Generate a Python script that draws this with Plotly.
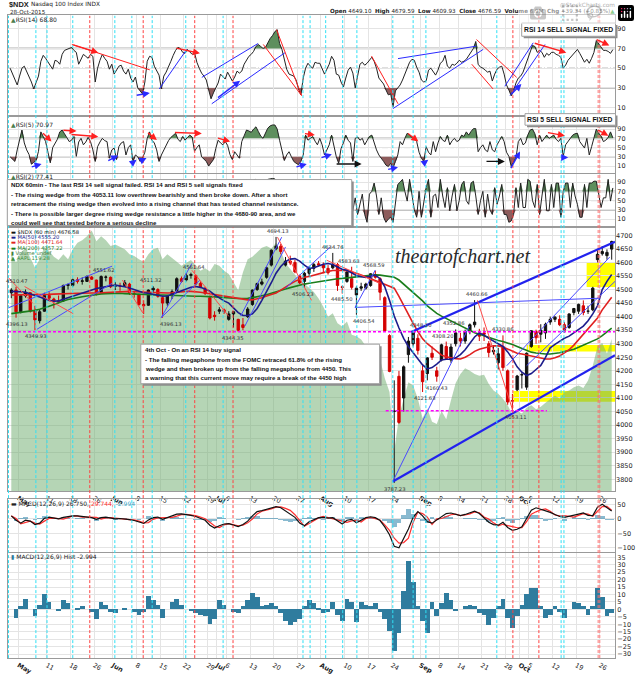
import plotly.graph_objects as go

# ---------------- DATA ----------------
# trading-day index: 0 = Fri 1 May 2015 ... 125 = Wed 28 Oct 2015
days = list(range(-2, 126))

tick_days = [0, 6, 11, 16, 20, 25, 30, 35, 40, 42, 44, 49, 54, 59, 64, 69, 74, 79,
             85, 89, 93, 98, 103, 106, 108, 113, 118, 123]
tick_labels = ["<b>May</b>", "11", "18", "26", "<b>Jun</b>", "8", "15", "22", "29", "<b>Jul</b>",
               "6", "13", "20", "27", "<b>Aug</b>", "10", "17", "24", "<b>Sep</b>", "8", "14",
               "21", "28", "<b>Oct</b>", "5", "12", "19", "26"]

open_ = [4488, 4498, 4418, 4477, 4488, 4422, 4385, 4420, 4478, 4465,
         4458, 4458, 4515, 4515, 4536, 4530, 4530, 4546, 4535, 4490,
         4545, 4545, 4512, 4512, 4514, 4520, 4485, 4480, 4445, 4442,
         4498, 4500, 4470, 4450, 4478, 4495, 4540, 4535, 4552, 4552,
         4522, 4505, 4470, 4405, 4420, 4425, 4390, 4410, 4390, 4370,
         4400, 4445, 4500, 4520, 4545, 4590, 4650, 4660, 4590, 4605,
         4600, 4550, 4530, 4560, 4578, 4595, 4590, 4578, 4580, 4592,
         4510, 4530, 4540, 4480, 4505, 4505, 4515, 4555, 4540, 4470,
         4330, 4050, 4180, 4100, 4260, 4300, 4320, 4200, 4190, 4265,
         4200, 4240, 4290, 4240, 4300, 4320, 4310, 4345, 4370, 4340,
         4340, 4300, 4270, 4230, 4290, 4200, 4090, 4130, 4185, 4140,
         4290, 4345, 4335, 4340, 4380, 4390, 4390, 4370, 4360, 4415,
         4420, 4440, 4420, 4425, 4610, 4632, 4625, 4649]
high = [4505, 4510, 4480, 4500, 4490, 4440, 4425, 4488, 4490, 4470,
        4478, 4518, 4522, 4540, 4545, 4545, 4552, 4550, 4536, 4552,
        4552, 4548, 4528, 4525, 4535, 4525, 4495, 4485, 4460, 4500,
        4512, 4505, 4472, 4480, 4500, 4545, 4548, 4560, 4562, 4555,
        4530, 4510, 4478, 4420, 4435, 4430, 4420, 4420, 4392, 4395,
        4435, 4500, 4525, 4540, 4585, 4648, 4694, 4668, 4620, 4625,
        4610, 4555, 4565, 4585, 4598, 4605, 4600, 4590, 4635, 4598,
        4515, 4575, 4584, 4512, 4525, 4525, 4560, 4569, 4545, 4475,
        4335, 4165, 4200, 4220, 4325, 4348, 4335, 4220, 4250, 4290,
        4215, 4300, 4308, 4300, 4353, 4340, 4352, 4375, 4461, 4355,
        4360, 4310, 4295, 4285, 4331, 4205, 4115, 4185, 4195, 4268,
        4350, 4352, 4372, 4378, 4400, 4402, 4405, 4380, 4412, 4432,
        4448, 4460, 4440, 4510, 4650, 4660, 4648, 4680]
low = [4468, 4396, 4412, 4470, 4415, 4350, 4375, 4418, 4460, 4430,
       4448, 4455, 4500, 4510, 4522, 4518, 4528, 4535, 4478, 4488,
       4530, 4505, 4498, 4495, 4510, 4480, 4470, 4440, 4410, 4440,
       4490, 4470, 4396, 4440, 4465, 4490, 4525, 4530, 4540, 4515,
       4505, 4480, 4390, 4385, 4410, 4410, 4385, 4360, 4344, 4350,
       4395, 4440, 4495, 4515, 4540, 4585, 4645, 4630, 4585, 4590,
       4560, 4520, 4506, 4550, 4565, 4585, 4560, 4555, 4575, 4495,
       4485, 4525, 4500, 4407, 4495, 4500, 4510, 4540, 4460, 4345,
       4195, 3787, 4005, 4050, 4230, 4290, 4260, 4122, 4165, 4240,
       4160, 4235, 4240, 4230, 4290, 4290, 4300, 4335, 4360, 4310,
       4310, 4250, 4260, 4205, 4200, 4075, 4053, 4125, 4135, 4130,
       4285, 4300, 4305, 4318, 4370, 4380, 4365, 4340, 4355, 4405,
       4410, 4405, 4410, 4420, 4600, 4625, 4610, 4610]
close = [4498, 4418, 4477, 4490, 4420, 4388, 4418, 4478, 4468, 4456,
         4455, 4515, 4518, 4536, 4530, 4532, 4548, 4538, 4488, 4548,
         4546, 4510, 4515, 4512, 4525, 4488, 4484, 4445, 4440, 4498,
         4505, 4475, 4450, 4478, 4492, 4540, 4530, 4552, 4555, 4520,
         4508, 4485, 4395, 4400, 4425, 4418, 4410, 4418, 4350, 4360,
         4428, 4498, 4522, 4528, 4580, 4645, 4660, 4640, 4605, 4598,
         4565, 4525, 4560, 4580, 4592, 4590, 4580, 4562, 4592, 4515,
         4508, 4565, 4508, 4505, 4510, 4520, 4558, 4545, 4490, 4348,
         4198, 4052, 4010, 4215, 4310, 4342, 4275, 4160, 4248, 4250,
         4180, 4296, 4245, 4288, 4340, 4310, 4345, 4370, 4380, 4328,
         4335, 4268, 4276, 4263, 4212, 4085, 4089, 4181, 4186, 4265,
         4348, 4322, 4350, 4372, 4390, 4398, 4370, 4350, 4410, 4430,
         4445, 4415, 4420, 4505, 4630, 4640, 4637, 4677]

ma50 = [4493, 4493, 4492, 4490, 4485, 4478, 4472, 4466, 4460, 4457,
        4458, 4464, 4470, 4475, 4480, 4485, 4492, 4499, 4504, 4507,
        4511, 4514, 4516, 4514, 4510, 4506, 4500, 4494, 4488, 4486,
        4482, 4478, 4475, 4476, 4482, 4490, 4495, 4502, 4508, 4511,
        4508, 4502, 4494, 4480, 4468, 4458, 4450, 4432, 4415, 4404,
        4404, 4410, 4430, 4460, 4490, 4525, 4560, 4585, 4603, 4612,
        4614, 4605, 4590, 4578, 4580, 4587, 4593, 4596, 4592, 4583,
        4575, 4571, 4562, 4552, 4547, 4545, 4550, 4553, 4540, 4510,
        4460, 4402, 4358, 4320, 4290, 4268, 4243, 4222, 4207, 4212,
        4225, 4240, 4243, 4243, 4248, 4260, 4278, 4300, 4325, 4340,
        4332, 4320, 4310, 4298, 4290, 4270, 4245, 4215, 4195, 4183,
        4190, 4205, 4220, 4250, 4285, 4298, 4310, 4320, 4328, 4340,
        4352, 4365, 4385, 4410, 4440, 4500, 4530, 4555.2]
ma100 = [4480, 4480, 4480, 4480, 4480, 4480, 4480, 4481, 4482, 4483,
         4484, 4485, 4486, 4486, 4486, 4486, 4486, 4486, 4487, 4488,
         4489, 4490, 4491, 4492, 4493, 4493, 4492, 4491, 4490, 4489,
         4488, 4487, 4486, 4487, 4488, 4490, 4492, 4493, 4493, 4492,
         4490, 4487, 4484, 4481, 4478, 4476, 4474, 4470, 4466, 4463,
         4462, 4462, 4465, 4470, 4476, 4481, 4487, 4498, 4510, 4520,
         4530, 4538, 4545, 4548, 4553, 4558, 4563, 4567, 4570, 4571,
         4571, 4569, 4565, 4560, 4554, 4548, 4540, 4533, 4526, 4520,
         4512, 4505, 4475, 4440, 4405, 4375, 4345, 4318, 4300, 4285,
         4270, 4258, 4252, 4248, 4245, 4244, 4250, 4260, 4272, 4280,
         4285, 4289, 4292, 4292, 4288, 4280, 4270, 4265, 4262, 4258,
         4255, 4250, 4246, 4244, 4244, 4248, 4255, 4265, 4278, 4295,
         4315, 4335, 4355, 4375, 4395, 4425, 4450, 4471.64]
ma200 = [4411, 4413, 4415, 4417, 4420, 4423, 4427, 4432, 4438, 4445,
         4452, 4458, 4463, 4467, 4470, 4473, 4476, 4479, 4482, 4484,
         4485, 4486, 4486, 4486, 4485, 4484, 4483, 4482, 4481, 4480,
         4480, 4480, 4480, 4479, 4478, 4477, 4476, 4476, 4476, 4475,
         4475, 4475, 4474, 4473, 4472, 4470, 4469, 4468, 4467, 4467,
         4468, 4470, 4473, 4477, 4481, 4486, 4492, 4497, 4502, 4507,
         4512, 4516, 4520, 4523, 4526, 4529, 4532, 4535, 4538, 4540,
         4541, 4543, 4545, 4547, 4549, 4551, 4553, 4554, 4553, 4551,
         4548, 4545, 4535, 4520, 4505, 4490, 4475, 4458, 4440, 4425,
         4412, 4402, 4393, 4384, 4375, 4366, 4357, 4348, 4341, 4335,
         4329, 4323, 4318, 4312, 4308, 4303, 4297, 4290, 4283, 4276,
         4269, 4266, 4263, 4262, 4262, 4264, 4267, 4271, 4275, 4280,
         4287, 4295, 4303, 4310, 4318, 4330, 4342, 4357.22]

aapl = [129.6, 128.6, 129.8, 130.4, 129.2, 128.0, 129.0, 130.5, 130.0, 129.3,
        128.9, 129.6, 129.0, 130.2, 131.0, 131.3, 131.8, 132.5, 131.2, 131.8,
        131.3, 130.6, 130.8, 130.5, 130.2, 129.6, 129.4, 129.0, 128.7, 129.6,
        130.2, 130.4, 129.0, 129.6, 129.2, 128.7, 128.2, 128.6, 128.9, 128.3,
        127.6, 127.9, 127.5, 128.4, 128.2, 127.6, 127.2, 126.2, 125.2, 127.4,
        129.0, 129.3, 129.8, 130.4, 130.6, 130.3, 131.0, 130.0, 128.5, 127.8,
        127.0, 126.4, 126.0, 125.5, 125.0, 124.2, 123.2, 122.0, 122.4, 121.2,
        120.8, 121.4, 119.8, 119.6, 119.2, 118.4, 117.6, 118.3, 116.8, 114.5,
        112.8, 105.6, 109.8, 112.0, 114.0, 113.6, 112.0, 109.6, 110.8, 109.2,
        108.9, 110.5, 109.5, 111.8, 113.9, 115.0, 115.7, 115.4, 115.0, 114.8,
        114.9, 113.8, 113.0, 112.6, 112.0, 111.2, 110.0, 110.5, 110.2, 110.9,
        111.2, 110.7, 111.0, 111.5, 112.0, 112.4, 112.0, 112.8, 113.0, 113.4,
        113.6, 113.3, 114.2, 116.0, 118.4, 118.8, 117.5, 119.28]

# half-day RSI readings (two per trading day)
rsi14 = [50, 44, 39, 33, 42, 50, 52, 47, 41, 36, 29, 35, 42, 57, 63, 60, 56, 52, 49, 58,
         57, 54, 64, 68, 69, 70, 71, 68, 66, 54, 60, 64, 62, 60, 64, 62, 36, 50, 58, 64,
         60, 57, 49, 54, 44, 48, 52, 53, 47, 44, 49, 40, 36, 41, 30, 27, 24, 36, 57, 62,
         61, 52, 47, 43, 29, 42, 46, 51, 57, 63, 68, 71, 70, 66, 65, 69, 66, 64, 66, 56,
         50, 45, 42, 38, 28, 19, 25, 31, 35, 44, 41, 39, 46, 42, 37, 41, 47, 45, 47, 54,
         58, 62, 64, 67, 72, 74, 72, 70, 71, 76, 80, 83, 87, 89, 75, 69, 60, 49, 44, 43,
         42, 38, 29, 23, 40, 50, 55, 52, 50, 56, 55, 55, 50, 44, 49, 54, 62, 58, 44, 43,
         36, 31, 40, 48, 51, 45, 30, 44, 54, 56, 53, 55, 58, 61, 57, 50, 40, 37, 34, 28,
         23, 24, 11, 27, 30, 33, 38, 44, 49, 56, 59, 58, 51, 46, 38, 36, 37, 48, 50, 47,
         43, 48, 55, 57, 63, 52, 50, 54, 53, 55, 58, 56, 57, 59, 63, 66, 70, 77, 54, 51,
         50, 48, 46, 47, 37, 44, 49, 51, 52, 44, 33, 28, 22, 27, 35, 40, 42, 46, 53, 59,
         68, 73, 72, 66, 68, 66, 61, 65, 63, 66, 66, 64, 63, 61, 50, 53, 58, 61, 63, 66,
         69, 65, 60, 56, 59, 55, 60, 66, 78, 75, 71, 68, 68, 67, 65, 68.8]
rsi5 = [30, 25, 20, 45, 66, 88, 60, 45, 35, 14, 18, 22, 42, 84, 74, 63, 40, 17, 50, 60,
        68, 84, 88, 80, 70, 63, 66, 74, 31, 62, 70, 56, 62, 72, 63, 45, 20, 52, 62, 70,
        65, 63, 27, 45, 49, 24, 52, 60, 63, 34, 50, 56, 20, 34, 30, 20, 27, 40, 70, 84,
        66, 60, 45, 20, 34, 45, 56, 65, 72, 77, 81, 68, 63, 74, 66, 72, 77, 73, 42, 50,
        56, 30, 25, 20, 10, 16, 24, 48, 66, 60, 56, 63, 55, 35, 24, 41, 33, 27, 63, 74,
        88, 86, 83, 90, 95, 85, 75, 70, 81, 92, 97, 99, 99, 90, 66, 40, 22, 34, 41, 30,
        20, 16, 13, 20, 34, 77, 66, 70, 74, 64, 56, 70, 56, 34, 45, 56, 77, 50, 30, 16,
        48, 60, 77, 66, 60, 20, 70, 73, 66, 70, 56, 65, 74, 77, 60, 45, 34, 28, 20, 12,
        9, 16, 6, 20, 34, 63, 56, 70, 81, 77, 72, 70, 63, 40, 27, 20, 52, 40, 34, 63,
        41, 60, 74, 66, 63, 77, 56, 65, 70, 63, 66, 77, 74, 84, 77, 85, 91, 91, 41, 50,
        56, 45, 41, 63, 45, 41, 56, 65, 74, 63, 40, 31, 9, 20, 27, 63, 70, 56, 60, 77,
        88, 90, 80, 56, 77, 63, 70, 77, 70, 74, 77, 68, 63, 70, 31, 56, 63, 70, 77, 80,
        81, 63, 56, 49, 70, 34, 52, 70, 90, 81, 75, 63, 66, 72, 84, 70.97]
rsi2 = [20, 10, 8, 60, 85, 94, 50, 30, 12, 5, 8, 25, 70, 94, 75, 50, 20, 5, 55, 70,
        80, 94, 92, 80, 60, 45, 70, 85, 15, 70, 80, 45, 70, 88, 60, 25, 5, 60, 75, 85,
        70, 55, 10, 40, 45, 10, 60, 75, 70, 15, 55, 60, 8, 30, 20, 6, 15, 45, 85, 94,
        70, 50, 30, 6, 25, 50, 65, 80, 85, 90, 92, 70, 55, 85, 70, 85, 88, 80, 25, 50,
        60, 15, 10, 8, 3, 8, 20, 60, 85, 70, 55, 75, 60, 20, 10, 40, 20, 10, 75, 88,
        95, 92, 88, 95, 96, 85, 70, 60, 88, 96, 97, 98, 97, 85, 55, 20, 8, 30, 40, 15,
        8, 5, 4, 12, 30, 90, 70, 80, 85, 60, 45, 75, 20, 20, 6, 40, 70, 92, 35, 85,
        60, 96, 70, 42, 3, 30, 56, 20, 40, 64, 20, 3, 64, 70, 88, 60, 20, 56, 14, 3,
        10, 14, 3, 40, 85, 90, 96, 70, 49, 96, 64, 30, 14, 70, 14, 50, 78, 96, 14, 60,
        64, 35, 96, 60, 35, 78, 28, 60, 85, 28, 50, 85, 92, 50, 42, 88, 92, 60, 20, 50,
        70, 14, 64, 30, 20, 78, 42, 60, 85, 20, 20, 3, 6, 20, 78, 35, 88, 35, 35, 96,
        92, 50, 35, 85, 20, 60, 96, 28, 28, 85, 35, 88, 88, 14, 70, 88, 88, 35, 88, 60,
        42, 14, 14, 85, 35, 88, 88, 92, 92, 64, 35, 56, 56, 96, 49, 77.41]

macd = [10, -5, -15, -5, -8, -20, -15, 2, 6, 2,
        0, 5, 8, 10, 10, 8, 6, 4, -2, 4,
        6, 2, 0, 1, 0, -3, -6, -12, -16, -4,
        4, 6, -2, 4, 10, 16, 17, 15, 12, 8,
        2, -5, -22, -32, -24, -18, -17, -22, -27, -20,
        -8, 10, 25, 28, 32, 38, 42, 38, 28, 18,
        5, -15, -24, -10, -2, 4, 5, 2, 4, -8,
        -18, -5, -2, -14, -6, 4, 7, 4, -6, -28,
        -55, -95, -100, -70, -35, 5, 25, 10, -10, -15,
        -5, 5, 18, 20, 15, 11, 15, 20, 26, 18,
        2, -12, -20, -22, -12, -30, -40, -36, -28, 0,
        30, 38, 33, 28, 22, 15, 8, 5, 8, 11,
        16, 20, 12, 11, 40, 50, 38, 26.75]
signal = [10, 1, -17, -12, -8, -15, -18, -8, 1, 2,
          1, -1, 4, 10, 9, 6, 6, 6, 5, -1,
          3, 4, 3, 1, -1, -3, -4, -8, -14, -13,
          -2, 3, 4, 4, 5, 9, 14, 15, 13, 11,
          6, 0, -12, -25, -30, -21, -17, -20, -24, -22,
          -14, -1, 17, 26, 29, 34, 40, 41, 36, 29,
          14, -8, -26, -16, -6, 3, 8, 4, -1, -4,
          -10, -12, -7, -5, -11, 1, 5, 0, -4, -21,
          -40, -67, -84, -82, -67, -13, 23, 18, 6, -20,
          0, 1, 7, 14, 16, 11, 13, 17, 24, 21,
          6, -1, -14, -24, -19, -24, -27, -31, -31, -10,
          16, 24, 31, 34, 26, 13, 10, 11, 8, 6,
          12, 18, 16, 9, 26, 42, 43, 29.744]
hist = [0, -6, 2, 7, 0, -5, 3, 10, 5, 0,
        -1, 6, 4, 0, 1, 2, 0, -2, -7, 5,
        3, -2, -3, 0, 1, 0, -2, -4, -2, 9,
        6, 3, -6, 0, 5, 7, 3, 0, -1, -3,
        -4, -5, -10, -7, 6, 3, 0, -2, -3, 2,
        6, 11, 8, 2, 3, 4, 2, -3, -8, -11,
        -9, -7, 2, 6, 4, 1, -3, -2, 5, -4,
        -8, 7, 5, -9, 5, 3, 2, 4, -2, -7,
        -15, -28, -16, 12, 32, 18, 2, -8, -16, 5,
        -5, 4, 11, 6, -1, 0, 2, 3, 2, -3,
        -4, -11, -6, 2, 7, -6, -13, -5, 3, 10,
        14, 14, 2, -6, -4, 2, -2, -6, 0, 5,
        4, 2, -4, 2, 14, 8, -5, -2.994]

# cycle markers (trading-day index)
cyan_cycle_days = [-2.1, 3.7, 6.05, 11.5, 20.4, 24.0, 28.3, 35.4, 43.3, 60.2, 61.7, 65.0,
                   68.6, 71.6, 79.2, 83.5, 86.2, 101.2, 114.8, 115.4]
red_cycle_days = [15.1, 26.4, 37.3, 45.4, 104.6, 110.1]
hot_cycle_day = 122.8

# swing-point labels: (day, value, +1 above / -1 below)
price_labels = [(-0.4, 4510.47, 1), (-0.4, 4396.13, -1), (3.7, 4349.93, -1), (18.0, 4551.62, 1),
                (28.0, 4511.32, 1), (32.2, 4396.13, -1), (37.1, 4561.64, 1), (45.3, 4344.35, -1),
                (54.8, 4694.13, 1), (60.0, 4506.23, -1), (66.5, 4634.76, 1), (69.9, 4583.63, 1),
                (68.4, 4485.50, -1), (75.1, 4568.59, 1), (73.1, 4406.54, -1), (85.0, 4348.20, 1),
                (85.9, 4121.63, -1), (89.8, 4308.20, 1), (88.5, 4160.43, -1), (92.1, 4352.86, 1),
                (96.9, 4460.66, 1), (102.3, 4330.86, 1), (79.6, 3787.23, -1), (105.1, 4053.11, -1)]

# drawn trendlines in (day, price)
blue_thin = [((-2.2, 4432), (19.8, 4586)), ((3.9, 4353), (19.8, 4523)), ((30.2, 4396), (36.7, 4596)),
             ((30.2, 4396), (38.4, 4535)), ((47.0, 4402), (55.7, 4693)), ((47.9, 4365), (56.5, 4657)),
             ((56.5, 4505), (66.0, 4657)), ((71.2, 4434), (75.5, 4572)), ((71.2, 4434), (123.0, 4468)),
             ((79.2, 3792), (95.4, 4365)), ((103.3, 4219), (125.1, 4620)), ((107.5, 4219), (126.2, 4530))]
blue_thick = [((83.1, 4343), (126.2, 4676)), ((79.2, 3792), (126.2, 4258))]
red_trend = [((-2.2, 4545), (3.0, 4450)), ((1.3, 4511), (11.6, 4411)), ((22.0, 4535), (26.3, 4414)),
             ((36.7, 4571), (44.5, 4401)), ((54.8, 4693), (62.0, 4460)), ((65.2, 4608), (76.4, 4523)),
             ((97.1, 4460), (104.6, 4053))]
yellow_zones = [(120.2, 4509, 4600), (107.5, 4271, 4295), (104.7, 4086, 4126)]
magenta_levels = [(-2.2, 126.2, 4344.35), (77.7, 111.8, 4053.11)]

RED, BLUE, BLK = "#ff2020", "#2a2aff", "#111111"
rsi14_lines = [(11.3, 74, 27.8, 48.3, RED), (29.8, 29, 35.6, 69, BLUE), (38.8, 40.7, 50.7, 75, BLUE),
               (40.9, 14, 56.4, 65.7, BLUE), (54.6, 89, 59.9, 22.3, RED), (51.8, 74, 59.9, 22.3, RED),
               (74.7, 62.3, 80.3, 14, RED), (79.2, 9, 98.3, 69, BLUE), (80.3, 59.7, 96.9, 72.3, BLUE),
               (96.9, 79, 105.4, 40.7, RED), (95.9, 54, 100.4, 29, RED), (102.9, 31.7, 108.9, 75.7, BLUE),
               (104, 22.3, 111.4, 74, BLUE)]
rsi14_arrows = [(11.3, 74, 16.9, 65.7, RED), (24.7, 22.3, 27.8, 25, BLUE), (33.1, 70.7, 38.4, 65, RED),
                (41.9, 19, 46.9, 37.3, BLUE), (104, 22.3, 106.4, 34, BLUE),
                (108.9, 75.7, 115.9, 65.7, RED), (122, 79.7, 125, 73, RED)]
rsi5_arrows = [(4.9, 84.4, 7.0, 63, RED), (9.2, 87.8, 12.3, 85.7, RED), (10.9, 78.6, 16.9, 73.7, RED),
               (27.1, 84.4, 29.3, 66.4, RED), (32.8, 82.9, 38.8, 80.7, RED), (41.9, 71.5, 44.8, 63, RED),
               (60.3, 80.7, 62.7, 77.1, RED), (82.1, 82.9, 84.6, 63, RED), (111.7, 82.9, 115.6, 75.8, RED),
               (122.3, 89.9, 124.8, 75.8, RED),
               (2.5, 7.3, 4.9, 14.3, BLUE), (18.7, 20.1, 21.1, 33, BLUE), (23.6, 12.8, 25, 23.6, BLUE),
               (25.7, 20.1, 27.1, 27.2, BLUE), (58.5, 7.3, 61, 14.3, BLUE), (63.8, 27.2, 66.3, 35.8, BLUE),
               (77.9, 2.1, 80.3, 7.3, BLUE), (85.3, 12.8, 86.7, 23.6, BLUE), (104, 2.1, 106.1, 41.5, BLUE),
               (115.2, 28.7, 116.3, 28.7, BLUE),
               (67, 14.3, 72.6, 14.3, BLK), (98.7, 20.1, 102.9, 20.1, BLK)]

# ---------------- LAYOUT GEOMETRY ----------------
W, H = 640, 676
XL, XR = 8, 615
XRANGE = [-2.2, 126.2]
PANELS = {1: (15, 116, [3, 104]), 2: (118, 175, [-4.9, 117.1]), 3: (176, 229, [-5.6, 107.8]),
          4: (231, 497, [100.73, 132.77]), 5: (505, 559, [-115.9, 68.2]), 6: (560, 666, [-32.7, 37.6])}
PRICE_RANGE = [3756.5, 4725.9]
FONT = "DejaVu Sans"
BOXFONT = "Liberation Sans"


def PX(x):
    return x / W


def PY(y):
    return 1 - y / H


fig = go.Figure()
t_half = [d + f for d in days for f in (0.25, 0.75)]
t_day = [d + 0.5 for d in days]
assert len(open_) == len(high) == len(low) == len(close) == len(days) == 128
assert len(ma50) == len(ma100) == len(ma200) == len(aapl) == 128
assert len(macd) == len(signal) == len(hist) == 128
assert len(rsi14) == len(rsi5) == len(rsi2) == 256

GREEN_FILL, BROWN_FILL = "#5e8f5e", "#8e5c5c"
for k, series in ((1, rsi14), (2, rsi5), (3, rsi2)):
    xa, ya = "x%d" % k, "y%d" % k
    n = len(series)
    fig.add_trace(go.Scatter(x=t_half, y=[70] * n, xaxis=xa, yaxis=ya, mode="lines",
                             line=dict(width=0), hoverinfo="skip"))
    fig.add_trace(go.Scatter(x=t_half, y=[max(v, 70) for v in series], xaxis=xa, yaxis=ya,
                             mode="lines", line=dict(width=0), fill="tonexty",
                             fillcolor=GREEN_FILL, hoverinfo="skip"))
    fig.add_trace(go.Scatter(x=t_half, y=[30] * n, xaxis=xa, yaxis=ya, mode="lines",
                             line=dict(width=0), hoverinfo="skip"))
    fig.add_trace(go.Scatter(x=t_half, y=[min(v, 30) for v in series], xaxis=xa, yaxis=ya,
                             mode="lines", line=dict(width=0), fill="tonexty",
                             fillcolor=BROWN_FILL, hoverinfo="skip"))
    fig.add_trace(go.Scatter(x=t_half, y=series, xaxis=xa, yaxis=ya, mode="lines",
                             line=dict(color="#222222", width=1)))

# AAPL area (base axis y4), price on overlay y7
fig.add_trace(go.Scatter(x=t_day, y=aapl, xaxis="x4", yaxis="y4", mode="lines",
                         line=dict(width=0, color="rgba(107,171,107,0.5)"), fill="tozeroy",
                         fillcolor="rgba(107,171,107,0.5)"))
fig.add_trace(go.Candlestick(x=t_day, open=open_, high=high, low=low, close=close,
                             xaxis="x4", yaxis="y7", whiskerwidth=0,
                             increasing=dict(line=dict(color="#111111", width=1), fillcolor="#111111"),
                             decreasing=dict(line=dict(color="#d40000", width=1), fillcolor="#d40000")))
for ser, col in ((ma200, "#1b7d1b"), (ma100, "#e02020"), (ma50, "#1c1c8c")):
    fig.add_trace(go.Scatter(x=t_day, y=ser, xaxis="x4", yaxis="y7", mode="lines",
                             line=dict(color=col, width=1.6)))

# MACD panel
fig.add_trace(go.Bar(x=t_day, y=hist, xaxis="x5", yaxis="y5", width=1.0,
                     marker=dict(color="rgba(40,130,170,0.55)", line=dict(width=0))))
fig.add_trace(go.Scatter(x=t_day, y=signal, xaxis="x5", yaxis="y5", mode="lines",
                         line=dict(color="#ff3030", width=1.2)))
fig.add_trace(go.Scatter(x=t_day, y=macd, xaxis="x5", yaxis="y5", mode="lines",
                         line=dict(color="#111111", width=1.2)))
# Histogram panel
fig.add_trace(go.Bar(x=t_day, y=hist, xaxis="x6", yaxis="y6", width=1.0,
                     marker=dict(color="#2f7c9e", line=dict(width=0))))

# ---------------- AXES ----------------
lay = dict(width=W, height=H, margin=dict(l=0, r=0, t=0, b=0), showlegend=False,
           paper_bgcolor="white", plot_bgcolor="white", bargap=0,
           font=dict(family=FONT, size=6, color="#222"))
ytick = {1: [10, 30, 50, 70, 90], 2: [10, 30, 50, 70, 90], 3: [10, 30, 50, 70, 90],
         5: [-100, -50, 0, 50], 6: list(range(-30, 40, 5))}
for k, (top, bot, rng) in PANELS.items():
    lay["xaxis%d" % k] = dict(domain=[PX(XL), PX(XR)], range=XRANGE, anchor="y%d" % k,
                              tickvals=tick_days, ticktext=tick_labels,
                              showticklabels=k in (4, 6), ticks="", showgrid=True,
                              gridcolor="#e4e4e4", gridwidth=1, zeroline=False,
                              showline=True, mirror=True, linecolor="#9a9a9a", linewidth=1,
                              tickfont=dict(size=6.5, family=FONT, color="#222"),
                              fixedrange=True, rangeslider=dict(visible=False))
    ya = dict(domain=[PY(bot), PY(top)], range=rng, anchor="x%d" % k, side="right",
              showline=True, mirror=True, linecolor="#9a9a9a", linewidth=1, zeroline=False,
              ticks="", tickfont=dict(size=6.5, family=FONT, color="#222"), fixedrange=True)
    if k == 4:
        ya.update(showticklabels=False, showgrid=False)
    else:
        ya.update(tickvals=ytick[k], showgrid=True, gridcolor="#e4e4e4")
    lay["yaxis%d" % k] = ya
lay["yaxis7"] = dict(overlaying="y4", anchor="x4", side="right", range=PRICE_RANGE,
                     tickvals=list(range(3800, 4701, 50)), showgrid=True, gridcolor="#e2e2e2",
                     zeroline=False, ticks="", showline=False,
                     tickfont=dict(size=6.5, family=FONT, color="#222"), fixedrange=True)
fig.update_layout(**lay)

# ---------------- SHAPES ----------------
shapes = []
for k in (1, 2, 3):
    for lvl in (70, 30):
        shapes.append(dict(type="line", xref="x%d" % k, yref="y%d" % k, x0=XRANGE[0], x1=XRANGE[1],
                           y0=lvl, y1=lvl, line=dict(color="#b0b0b0", width=1.6), layer="below"))
    shapes.append(dict(type="line", xref="x%d" % k, yref="y%d" % k, x0=XRANGE[0], x1=XRANGE[1],
                       y0=50, y1=50, line=dict(color="#9a9a9a", width=1, dash="6px,2px,1px,2px"),
                       layer="below"))
for d0, p0, p1 in yellow_zones:
    shapes.append(dict(type="rect", xref="x4", yref="y7", x0=d0, x1=XRANGE[1], y0=p0, y1=p1,
                       fillcolor="#ffff00", line=dict(width=0), layer="below"))
for (a, b) in blue_thin:
    shapes.append(dict(type="line", xref="x4", yref="y7", x0=a[0], y0=a[1], x1=b[0], y1=b[1],
                       line=dict(color="#4a4aff", width=1), layer="above"))
for (a, b) in blue_thick:
    shapes.append(dict(type="line", xref="x4", yref="y7", x0=a[0], y0=a[1], x1=b[0], y1=b[1],
                       line=dict(color="#2222ee", width=2.2), layer="above"))
for (a, b) in red_trend:
    shapes.append(dict(type="line", xref="x4", yref="y7", x0=a[0], y0=a[1], x1=b[0], y1=b[1],
                       line=dict(color="#ff4a4a", width=1), layer="above"))
for d0, d1, lvl in magenta_levels:
    shapes.append(dict(type="line", xref="x4", yref="y7", x0=d0, x1=d1, y0=lvl, y1=lvl,
                       line=dict(color="#ff00ff", width=1.5, dash="3px,2px"), layer="above"))
for (d0, v0, d1, v1, col) in rsi14_lines:
    shapes.append(dict(type="line", xref="x1", yref="y1", x0=d0, y0=v0, x1=d1, y1=v1,
                       line=dict(color=col, width=1), layer="above"))
for d in cyan_cycle_days:
    shapes.append(dict(type="line", xref="x1", yref="paper", x0=d, x1=d, y0=PY(666), y1=PY(16),
                       line=dict(color="#30e0f5", width=1, dash="3px,2px"), layer="above"))
for d in red_cycle_days:
    shapes.append(dict(type="line", xref="x1", yref="paper", x0=d, x1=d, y0=PY(666), y1=PY(16),
                       line=dict(color="#ff4040", width=1, dash="3px,2px"), layer="above"))
shapes.append(dict(type="line", xref="x1", yref="paper", x0=hot_cycle_day, x1=hot_cycle_day,
                   y0=PY(666), y1=PY(16),
                   line=dict(color="rgba(255,110,110,0.6)", width=3, dash="3px,2px"), layer="above"))


def box(x0, y0, x1, y1):
    shapes.append(dict(type="rect", xref="paper", yref="paper", x0=PX(x0 + 2), x1=PX(x1 + 2),
                       y0=PY(y1 + 2), y1=PY(y0 + 2), fillcolor="#8c8c8c", line=dict(width=0),
                       layer="above"))
    shapes.append(dict(type="rect", xref="paper", yref="paper", x0=PX(x0), x1=PX(x1),
                       y0=PY(y1), y1=PY(y0), fillcolor="white", line=dict(color="#a0a0a0", width=1),
                       layer="above"))


box(7.3, 181.7, 351.7, 228.3)
box(140.8, 348.3, 379.6, 388.3)
box(521.7, 23.3, 615.5, 36.7)
box(525, 115, 615.5, 126.7)
fig.update_layout(shapes=shapes)

# ---------------- ANNOTATIONS ----------------
ann = []


def text(x, y, s, size=6, color="#222", anchor="left", family=FONT):
    ann.append(dict(xref="paper", yref="paper", x=PX(x), y=PY(y), text=s, showarrow=False,
                    xanchor=anchor, yanchor="middle", font=dict(size=size, color=color, family=family)))


text(7, 4.8, "<b>$NDX</b>", size=7.4, family=BOXFONT)
text(29, 4.8, "Nasdaq 100 Index INDX", size=5.8)
text(8, 12, "28-Oct-2015", size=5.6)
text(617, 4.8, "@StockCharts.com", size=5.8, color="#555", anchor="right")
text(617, 12, "<b>Open</b> 4649.10  <b>High</b> 4679.59  <b>Low</b> 4609.93  <b>Close</b> 4676.59  "
     "<b>Volume</b> 6.9M  <b>Chg</b> +39.34 (+0.85%)<span style='color:#1a9a1a'>▲</span>",
     size=5.6, anchor="right")
text(9, 19.5, "<span style='color:#4d7d4d'>▲</span>RSI(14) 68.80", size=6)
text(9, 126, "<span style='color:#4d7d4d'>▲</span>RSI(5) 70.97", size=6)
text(9, 178.5, "<span style='color:#4d7d4d'>▲</span>RSI(2) 77.41", size=6)

legend_rows = [("#111111", "▬", "$NDX (60 min) 4676.58"), ("#1c1c8c", "▬", "MA(50) 4555.20"),
               ("#e02020", "▬", "MA(100) 4471.64"), ("#1b7d1b", "▬", "MA(200) 4357.22"),
               ("#3f7f3f", "▮", "Volume undef"), ("#3f8f3f", "▲", "AAPL 119.28")]
for i, (col, icon, s) in enumerate(legend_rows):
    text(9, 234.5 + 5.4 * i, "<span style='color:%s'>%s %s</span>" % (col, icon, s), size=5.2)

text(9, 509.5, "▬ MACD(12,26,9) 26.750, <span style='color:#ff3030'>29.744,</span> "
     "<span style='color:#3aa6c8'>-2.994</span>", size=6)
text(9, 563.5, "<span style='color:#2f7c9e'>▮</span> MACD(12,26,9) Hist -2.994", size=6)

box1 = ["NDX 60min - The last RSI 14 sell signal failed. RSI 14 and RSI 5 sell signals fixed",
        "- The rising wedge from the 4053.11 low overthrew bearishly and then broke down. After a short",
        "retracement the rising wedge then evolved into a rising channel that has tested channel resistance.",
        "- There is possible larger degree rising wedge resistance a little higher in the 4680-90 area, and we",
        "could well see that tested before a serious decline"]
for i, s in enumerate(box1):
    text(9, 187 + 9.6 * i, "<b>%s</b>" % s, size=6.1, color="#111", family=BOXFONT)
box2 = ["4th Oct - On an RSI 14 buy signal",
        "- The falling megaphone from the FOMC retraced 61.8% of the rising",
        "wedge and then broken up from the falling megaphone from 4450. This",
        "a warning that this current move may require a break of the 4450 high"]
for i, s in enumerate(box2):
    text(143, 354 + 9.3 * i, "<b>%s</b>" % s, size=6.1, color="#111", family=BOXFONT)
text(568.5, 30, "<b>RSI 14 SELL SIGNAL FIXED</b>", size=6.8, color="#111", anchor="center",
     family=BOXFONT)
text(570.2, 121, "<b>RSI 5 SELL SIGNAL FIXED</b>", size=6.8, color="#111", anchor="center",
     family=BOXFONT)
text(462.8, 259.5, "<i>theartofchart.net</i>", size=20, color="#2a2a2a", anchor="center",
     family="Liberation Serif")

for d, v, side in price_labels:
    ann.append(dict(xref="x4", yref="y7", x=d, y=v, text="%.2f" % v, showarrow=False,
                    xanchor="center", yanchor="middle", yshift=6 * side,
                    font=dict(size=5.2, color="#333", family=FONT)))

for (d0, v0, d1, v1, col) in rsi14_arrows:
    ann.append(dict(xref="x1", yref="y1", axref="x1", ayref="y1", x=d1, y=v1, ax=d0, ay=v0,
                    text="", showarrow=True, arrowhead=2, arrowsize=1, arrowwidth=1.4,
                    arrowcolor=col, standoff=0, startstandoff=0))
for (d0, v0, d1, v1, col) in rsi5_arrows:
    ann.append(dict(xref="x2", yref="y2", axref="x2", ayref="y2", x=d1, y=v1, ax=d0, ay=v0,
                    text="", showarrow=True, arrowhead=2, arrowsize=1, arrowwidth=1.4,
                    arrowcolor=col, standoff=0, startstandoff=0))

fig.update_layout(annotations=ann)
fig.write_html("out.html",
               post_script="document.body.style.margin='0px';document.body.style.padding='0px';"
                           "document.body.style.overflow='hidden';")
